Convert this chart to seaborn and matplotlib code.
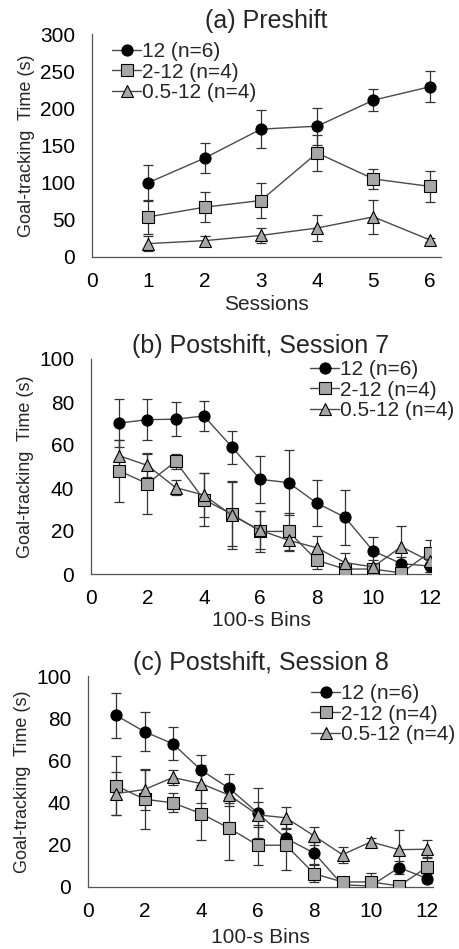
import numpy as np
import pandas as pd
import matplotlib
matplotlib.use("Agg")
import matplotlib.pyplot as plt
import seaborn as sns

# Group labels
groups = ["12 (n=6)", "2-12 (n=4)", "0.5-12 (n=4)"]

# (a) Preshift, sessions 1-6
sessions = [1, 2, 3, 4, 5, 6]
pre_12 = [100, 133, 172, 176, 211, 229]
pre_12_err = [24, 20, 26, 25, 15, 21]
pre_2_12 = [54, 67, 76, 140, 105, 95]
pre_2_12_err = [23, 20, 24, 24, 14, 21]
pre_05_12 = [18, 22, 29, 39, 54, 23]
pre_05_12_err = [10, 6, 10, 18, 23, 3]

# (b) Postshift, session 7, 100-s bins
bins = [1, 2, 3, 4, 5, 6, 7, 8, 9, 10, 11, 12]
s7_12 = [70.2, 71.8, 72, 73.5, 59, 44, 42.5, 33, 26.4, 10.7, 4.8, 3.7]
s7_12_err = [11, 9.5, 8, 7, 7.7, 11, 15, 10.5, 12.7, 6.5, 3, 3]
s7_2_12 = [48, 42, 52.4, 34.6, 27.8, 19.8, 19.8, 6.4, 2.3, 2.3, 0.5, 10]
s7_2_12_err = [14.3, 14.2, 3.5, 12.4, 15, 9.6, 8.6, 4, 2, 2, 0.5, 5.7]
s7_05_12 = [55, 50.5, 40.2, 36.7, 27.3, 20.3, 15.7, 12.2, 5.3, 3.3, 12.7, 6]
s7_05_12_err = [7.5, 5.2, 3.4, 10.4, 15.8, 8.8, 5, 5.6, 4.7, 3, 9.5, 5]

# (c) Postshift, session 8
s8_12 = [81.3, 73.6, 67.9, 55.4, 46.7, 35.1, 23, 16.1, 1, 0.5, 9.2, 4]
s8_12_err = [10.7, 9.2, 7.8, 7, 7, 11.7, 5, 5, 1, 0.5, 3, 2]
s8_2_12 = [48, 41.6, 39.9, 34.8, 27.8, 19.8, 19.8, 6.3, 2.4, 2.4, 0.5, 9.5]
s8_2_12_err = [14, 14, 4.5, 12.3, 15, 9.5, 11.6, 4, 2, 4.4, 0.5, 4.7]
s8_05_12 = [44.3, 46.2, 51.9, 49, 43.5, 34.2, 32.8, 24.2, 15.3, 21.4, 17.7, 17.9]
s8_05_12_err = [10, 9.5, 3.5, 9, 5, 6, 5.2, 4.3, 3.7, 1.6, 9.2, 4.2]

sns.set_style("white")
plt.rcParams['font.family'] = ['Liberation Sans', 'DejaVu Sans']

AXCOL = "#555555"
markers = {groups[0]: "o", groups[1]: "s", groups[2]: "^"}
faces = {groups[0]: "black", groups[1]: "#a6a6a6", groups[2]: "#a6a6a6"}


def make_df(x, series):
    rows = []
    for g, (vals, errs) in zip(groups, series):
        for xi, v, e in zip(x, vals, errs):
            rows.append({"x": xi, "y": v, "err": e, "group": g})
    return pd.DataFrame(rows)


def draw_panel(ax, df, title, xlabel, ylim, yticks, xlim, xticks, leg_anchor, xpad):
    # error bars first so markers sit on top
    for g in groups:
        d = df[df["group"] == g]
        ax.errorbar(d["x"], d["y"], yerr=d["err"], fmt="none", ecolor="#333333",
                    elinewidth=0.9, capsize=3.5, capthick=0.9, zorder=2)
    sns.lineplot(data=df, x="x", y="y", hue="group", style="group",
                 hue_order=groups, style_order=groups,
                 palette={g: "#4a4a4a" for g in groups},
                 markers=markers, dashes=False, linewidth=1.0,
                 markersize=8, ax=ax, legend=False, zorder=3)
    # recolor marker faces per group
    for line, g in zip(ax.get_lines()[-3:], groups):
        line.set_markerfacecolor(faces[g])
        line.set_markeredgecolor("black")
        line.set_markeredgewidth(0.8)

    handles = [plt.Line2D([], [], color="#4a4a4a", lw=1.0, marker=markers[g],
                          markersize=8, markerfacecolor=faces[g],
                          markeredgecolor="black", markeredgewidth=0.8)
               for g in groups]
    fx, fy = leg_anchor
    ax.legend(handles, groups, loc="upper left",
              bbox_to_anchor=(fx / 459, 1 - fy / 949),
              bbox_transform=ax.figure.transFigure,
              frameon=False, fontsize=15, handlelength=1.4, handletextpad=0.05,
              labelspacing=0.08, borderaxespad=0.0, borderpad=0.0)

    ax.set_xlim(*xlim)
    ax.set_ylim(*ylim)
    ax.set_xticks(xticks)
    ax.set_yticks(yticks)
    ax.set_title(title, fontsize=18, pad=4)
    ax.set_xlabel(xlabel, fontsize=15, labelpad=xpad)
    ax.set_ylabel("Goal-tracking  Time (s)", fontsize=13, labelpad=4)
    ax.tick_params(axis="both", labelsize=15, colors="black")
    ax.tick_params(axis="y", direction="out", length=4, width=0.8, color=AXCOL, pad=8)
    ax.tick_params(axis="x", direction="in", length=4, width=0.8, color=AXCOL, pad=11)
    sns.despine(ax=ax)
    for s in ["left", "bottom"]:
        ax.spines[s].set_color(AXCOL)
        ax.spines[s].set_linewidth(0.9)


fig = plt.figure(figsize=(4.59, 9.49), dpi=100)
ax_a = fig.add_axes([92 / 459, 1 - 257 / 949, (441 - 92) / 459, (257 - 34) / 949])
ax_b = fig.add_axes([91 / 459, 1 - 574 / 949, (431 - 91) / 459, (574 - 359) / 949])
ax_c = fig.add_axes([88 / 459, 1 - 887 / 949, (433 - 88) / 459, (887 - 676) / 949])

df_a = make_df(sessions, [(pre_12, pre_12_err), (pre_2_12, pre_2_12_err),
                          (pre_05_12, pre_05_12_err)])
df_b = make_df(bins, [(s7_12, s7_12_err), (s7_2_12, s7_2_12_err),
                      (s7_05_12, s7_05_12_err)])
df_c = make_df(bins, [(s8_12, s8_12_err), (s8_2_12, s8_2_12_err),
                      (s8_05_12, s8_05_12_err)])

draw_panel(ax_a, df_a, "(a) Preshift", "Sessions", (0, 300), range(0, 301, 50),
           (0, 6.2), range(0, 7), (112, 42), 3)
draw_panel(ax_b, df_b, "(b) Postshift, Session 7", "100-s Bins", (0, 100),
           range(0, 101, 20), (0, 12.05), range(0, 13, 2), (310, 360), 2)
draw_panel(ax_c, df_c, "(c) Postshift, Session 8", "100-s Bins", (0, 100),
           range(0, 101, 20), (0, 12.2), range(0, 13, 2), (311, 684), 5)

fig.savefig("out.png", dpi=100)
